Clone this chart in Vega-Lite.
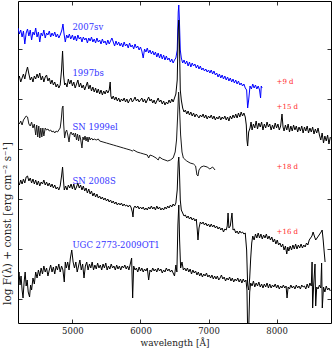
{
"$schema":"https://vega.github.io/schema/vega-lite/v6.json",
"width":313,"height":322,"autosize":"none",
"padding":{"left":18,"top":1,"right":1,"bottom":27},
"config":{"view":{"stroke":"#000","strokeWidth":1},"axis":{"grid":false,"domain":false,"tickColor":"#000","tickWidth":0.8,"labelFont":"DejaVu Serif","labelFontSize":8.5,"labelColor":"#222","titleFont":"DejaVu Serif","titleFontSize":9,"titleFontWeight":"normal","titleColor":"#222"}},
"datasets":{
"spec":[
{"s":"2007sv","w":4200,"f":27.1},{"s":"2007sv","w":4220,"f":26.5},{"s":"2007sv","w":4240,"f":26.9},{"s":"2007sv","w":4260,"f":26.2},{"s":"2007sv","w":4280,"f":26.8},{"s":"2007sv","w":4300,"f":25.5},{"s":"2007sv","w":4320,"f":26.6},{"s":"2007sv","w":4340,"f":27.0},{"s":"2007sv","w":4360,"f":26.3},{"s":"2007sv","w":4380,"f":26.9},{"s":"2007sv","w":4400,"f":25.9},{"s":"2007sv","w":4420,"f":26.7},{"s":"2007sv","w":4440,"f":26.4},{"s":"2007sv","w":4460,"f":27.1},{"s":"2007sv","w":4480,"f":26.2},{"s":"2007sv","w":4500,"f":26.7},{"s":"2007sv","w":4520,"f":25.7},{"s":"2007sv","w":4540,"f":26.6},{"s":"2007sv","w":4560,"f":26.3},{"s":"2007sv","w":4580,"f":26.9},{"s":"2007sv","w":4600,"f":26.1},{"s":"2007sv","w":4620,"f":26.6},{"s":"2007sv","w":4640,"f":26.4},{"s":"2007sv","w":4660,"f":26.8},{"s":"2007sv","w":4680,"f":26.2},{"s":"2007sv","w":4700,"f":26.6},{"s":"2007sv","w":4720,"f":26.3},{"s":"2007sv","w":4740,"f":26.7},{"s":"2007sv","w":4760,"f":26.2},{"s":"2007sv","w":4780,"f":26.5},{"s":"2007sv","w":4800,"f":26.1},{"s":"2007sv","w":4820,"f":26.4},{"s":"2007sv","w":4845,"f":26.9},{"s":"2007sv","w":4861,"f":27.5},{"s":"2007sv","w":4875,"f":26.6},{"s":"2007sv","w":4895,"f":25.7},{"s":"2007sv","w":4915,"f":26.4},{"s":"2007sv","w":4935,"f":26.1},{"s":"2007sv","w":4955,"f":26.5},{"s":"2007sv","w":4975,"f":26.0},{"s":"2007sv","w":5000,"f":26.4},{"s":"2007sv","w":5020,"f":25.9},{"s":"2007sv","w":5040,"f":26.3},{"s":"2007sv","w":5060,"f":25.8},{"s":"2007sv","w":5080,"f":26.4},{"s":"2007sv","w":5100,"f":26.0},{"s":"2007sv","w":5120,"f":26.2},{"s":"2007sv","w":5140,"f":25.7},{"s":"2007sv","w":5160,"f":26.2},{"s":"2007sv","w":5180,"f":25.9},{"s":"2007sv","w":5200,"f":26.1},{"s":"2007sv","w":5220,"f":25.6},{"s":"2007sv","w":5240,"f":26.1},{"s":"2007sv","w":5260,"f":25.8},{"s":"2007sv","w":5280,"f":26.2},{"s":"2007sv","w":5300,"f":25.7},{"s":"2007sv","w":5320,"f":26.0},{"s":"2007sv","w":5340,"f":25.6},{"s":"2007sv","w":5360,"f":26.1},{"s":"2007sv","w":5380,"f":25.7},{"s":"2007sv","w":5400,"f":25.9},{"s":"2007sv","w":5420,"f":25.5},{"s":"2007sv","w":5440,"f":26.0},{"s":"2007sv","w":5460,"f":25.6},{"s":"2007sv","w":5480,"f":25.8},{"s":"2007sv","w":5500,"f":25.4},{"s":"2007sv","w":5520,"f":25.9},{"s":"2007sv","w":5540,"f":25.5},{"s":"2007sv","w":5560,"f":25.8},{"s":"2007sv","w":5580,"f":26.1},{"s":"2007sv","w":5600,"f":25.7},{"s":"2007sv","w":5620,"f":25.3},{"s":"2007sv","w":5640,"f":25.8},{"s":"2007sv","w":5660,"f":25.4},{"s":"2007sv","w":5680,"f":25.7},{"s":"2007sv","w":5700,"f":25.3},{"s":"2007sv","w":5720,"f":25.6},{"s":"2007sv","w":5740,"f":25.2},{"s":"2007sv","w":5760,"f":25.7},{"s":"2007sv","w":5780,"f":25.3},{"s":"2007sv","w":5800,"f":25.5},{"s":"2007sv","w":5820,"f":25.1},{"s":"2007sv","w":5840,"f":25.6},{"s":"2007sv","w":5860,"f":25.2},{"s":"2007sv","w":5880,"f":25.4},{"s":"2007sv","w":5900,"f":25.0},{"s":"2007sv","w":5920,"f":25.5},{"s":"2007sv","w":5940,"f":25.1},{"s":"2007sv","w":5960,"f":25.3},{"s":"2007sv","w":5980,"f":24.9},{"s":"2007sv","w":6000,"f":25.2},{"s":"2007sv","w":6020,"f":24.8},{"s":"2007sv","w":6040,"f":24.1},{"s":"2007sv","w":6060,"f":25.0},{"s":"2007sv","w":6080,"f":24.7},{"s":"2007sv","w":6100,"f":25.1},{"s":"2007sv","w":6120,"f":24.6},{"s":"2007sv","w":6140,"f":24.9},{"s":"2007sv","w":6160,"f":24.5},{"s":"2007sv","w":6180,"f":24.8},{"s":"2007sv","w":6200,"f":24.4},{"s":"2007sv","w":6220,"f":24.7},{"s":"2007sv","w":6240,"f":24.2},{"s":"2007sv","w":6260,"f":24.6},{"s":"2007sv","w":6280,"f":24.1},{"s":"2007sv","w":6300,"f":24.5},{"s":"2007sv","w":6320,"f":24.0},{"s":"2007sv","w":6340,"f":24.4},{"s":"2007sv","w":6360,"f":23.9},{"s":"2007sv","w":6380,"f":24.3},{"s":"2007sv","w":6400,"f":23.9},{"s":"2007sv","w":6420,"f":24.1},{"s":"2007sv","w":6440,"f":23.7},{"s":"2007sv","w":6460,"f":24.0},{"s":"2007sv","w":6480,"f":23.6},{"s":"2007sv","w":6500,"f":23.9},{"s":"2007sv","w":6520,"f":24.1},{"s":"2007sv","w":6540,"f":24.9},{"s":"2007sv","w":6555,"f":28.7},{"s":"2007sv","w":6563,"f":29.4},{"s":"2007sv","w":6572,"f":27.9},{"s":"2007sv","w":6585,"f":24.9},{"s":"2007sv","w":6600,"f":24.1},{"s":"2007sv","w":6620,"f":23.6},{"s":"2007sv","w":6640,"f":23.9},{"s":"2007sv","w":6660,"f":23.5},{"s":"2007sv","w":6680,"f":23.8},{"s":"2007sv","w":6700,"f":23.3},{"s":"2007sv","w":6720,"f":23.7},{"s":"2007sv","w":6740,"f":23.2},{"s":"2007sv","w":6760,"f":23.6},{"s":"2007sv","w":6780,"f":23.3},{"s":"2007sv","w":6800,"f":23.5},{"s":"2007sv","w":6820,"f":23.1},{"s":"2007sv","w":6840,"f":23.4},{"s":"2007sv","w":6860,"f":23.0},{"s":"2007sv","w":6880,"f":23.3},{"s":"2007sv","w":6900,"f":22.9},{"s":"2007sv","w":6920,"f":23.1},{"s":"2007sv","w":6940,"f":22.8},{"s":"2007sv","w":6960,"f":23.0},{"s":"2007sv","w":6980,"f":22.7},{"s":"2007sv","w":7000,"f":22.9},{"s":"2007sv","w":7020,"f":22.6},{"s":"2007sv","w":7040,"f":22.9},{"s":"2007sv","w":7060,"f":22.5},{"s":"2007sv","w":7080,"f":22.8},{"s":"2007sv","w":7100,"f":22.4},{"s":"2007sv","w":7120,"f":22.6},{"s":"2007sv","w":7140,"f":22.2},{"s":"2007sv","w":7160,"f":22.5},{"s":"2007sv","w":7180,"f":22.1},{"s":"2007sv","w":7200,"f":22.4},{"s":"2007sv","w":7220,"f":22.0},{"s":"2007sv","w":7240,"f":22.3},{"s":"2007sv","w":7260,"f":21.9},{"s":"2007sv","w":7280,"f":22.2},{"s":"2007sv","w":7300,"f":21.8},{"s":"2007sv","w":7320,"f":22.1},{"s":"2007sv","w":7340,"f":21.7},{"s":"2007sv","w":7360,"f":22.0},{"s":"2007sv","w":7380,"f":21.6},{"s":"2007sv","w":7400,"f":21.9},{"s":"2007sv","w":7420,"f":21.5},{"s":"2007sv","w":7440,"f":21.8},{"s":"2007sv","w":7460,"f":21.4},{"s":"2007sv","w":7480,"f":21.6},{"s":"2007sv","w":7500,"f":21.3},{"s":"2007sv","w":7520,"f":21.5},{"s":"2007sv","w":7540,"f":21.1},{"s":"2007sv","w":7560,"f":20.9},{"s":"2007sv","w":7575,"f":19.1},{"s":"2007sv","w":7590,"f":19.9},{"s":"2007sv","w":7610,"f":21.3},{"s":"2007sv","w":7630,"f":21.0},{"s":"2007sv","w":7650,"f":21.5},{"s":"2007sv","w":7670,"f":21.1},{"s":"2007sv","w":7690,"f":21.4},{"s":"2007sv","w":7710,"f":21.0},{"s":"2007sv","w":7730,"f":21.3},{"s":"2007sv","w":7750,"f":20.9},{"s":"2007sv","w":7765,"f":20.1},{"s":"2007sv","w":7775,"f":21.3},{"s":"2007sv","w":7787,"f":21.1},
{"s":"1997bs","w":4200,"f":21.9},{"s":"1997bs","w":4220,"f":22.3},{"s":"1997bs","w":4240,"f":21.7},{"s":"1997bs","w":4260,"f":22.1},{"s":"1997bs","w":4280,"f":22.5},{"s":"1997bs","w":4300,"f":22.0},{"s":"1997bs","w":4320,"f":22.7},{"s":"1997bs","w":4340,"f":23.2},{"s":"1997bs","w":4360,"f":22.5},{"s":"1997bs","w":4380,"f":21.9},{"s":"1997bs","w":4400,"f":22.2},{"s":"1997bs","w":4420,"f":21.7},{"s":"1997bs","w":4440,"f":22.3},{"s":"1997bs","w":4460,"f":22.0},{"s":"1997bs","w":4480,"f":22.5},{"s":"1997bs","w":4500,"f":22.1},{"s":"1997bs","w":4520,"f":22.6},{"s":"1997bs","w":4540,"f":21.9},{"s":"1997bs","w":4560,"f":22.3},{"s":"1997bs","w":4580,"f":21.7},{"s":"1997bs","w":4600,"f":22.2},{"s":"1997bs","w":4620,"f":22.4},{"s":"1997bs","w":4640,"f":21.8},{"s":"1997bs","w":4660,"f":22.1},{"s":"1997bs","w":4680,"f":21.5},{"s":"1997bs","w":4700,"f":21.9},{"s":"1997bs","w":4720,"f":21.4},{"s":"1997bs","w":4740,"f":21.7},{"s":"1997bs","w":4760,"f":21.2},{"s":"1997bs","w":4780,"f":21.5},{"s":"1997bs","w":4800,"f":21.1},{"s":"1997bs","w":4820,"f":21.4},{"s":"1997bs","w":4840,"f":22.9},{"s":"1997bs","w":4855,"f":24.8},{"s":"1997bs","w":4870,"f":22.4},{"s":"1997bs","w":4885,"f":21.4},{"s":"1997bs","w":4900,"f":21.6},{"s":"1997bs","w":4920,"f":21.2},{"s":"1997bs","w":4940,"f":22.0},{"s":"1997bs","w":4960,"f":21.5},{"s":"1997bs","w":4980,"f":21.9},{"s":"1997bs","w":5000,"f":21.3},{"s":"1997bs","w":5020,"f":21.7},{"s":"1997bs","w":5040,"f":21.1},{"s":"1997bs","w":5060,"f":21.5},{"s":"1997bs","w":5080,"f":21.9},{"s":"1997bs","w":5100,"f":21.2},{"s":"1997bs","w":5120,"f":21.6},{"s":"1997bs","w":5140,"f":21.1},{"s":"1997bs","w":5160,"f":21.4},{"s":"1997bs","w":5180,"f":20.9},{"s":"1997bs","w":5200,"f":21.3},{"s":"1997bs","w":5220,"f":21.7},{"s":"1997bs","w":5240,"f":21.0},{"s":"1997bs","w":5260,"f":21.4},{"s":"1997bs","w":5280,"f":20.8},{"s":"1997bs","w":5300,"f":21.2},{"s":"1997bs","w":5320,"f":20.7},{"s":"1997bs","w":5340,"f":21.1},{"s":"1997bs","w":5360,"f":20.6},{"s":"1997bs","w":5380,"f":21.0},{"s":"1997bs","w":5400,"f":20.5},{"s":"1997bs","w":5420,"f":20.9},{"s":"1997bs","w":5440,"f":20.4},{"s":"1997bs","w":5460,"f":20.8},{"s":"1997bs","w":5480,"f":20.5},{"s":"1997bs","w":5500,"f":20.9},{"s":"1997bs","w":5520,"f":20.6},{"s":"1997bs","w":5540,"f":20.9},{"s":"1997bs","w":5555,"f":21.7},{"s":"1997bs","w":5565,"f":20.3},{"s":"1997bs","w":5580,"f":20.0},{"s":"1997bs","w":5600,"f":20.3},{"s":"1997bs","w":5620,"f":19.9},{"s":"1997bs","w":5640,"f":20.2},{"s":"1997bs","w":5660,"f":19.8},{"s":"1997bs","w":5680,"f":20.1},{"s":"1997bs","w":5700,"f":19.7},{"s":"1997bs","w":5720,"f":20.0},{"s":"1997bs","w":5740,"f":19.8},{"s":"1997bs","w":5760,"f":20.1},{"s":"1997bs","w":5780,"f":19.7},{"s":"1997bs","w":5800,"f":20.0},{"s":"1997bs","w":5820,"f":19.6},{"s":"1997bs","w":5840,"f":19.9},{"s":"1997bs","w":5860,"f":20.1},{"s":"1997bs","w":5880,"f":19.7},{"s":"1997bs","w":5900,"f":19.9},{"s":"1997bs","w":5920,"f":20.2},{"s":"1997bs","w":5940,"f":19.8},{"s":"1997bs","w":5960,"f":20.0},{"s":"1997bs","w":5980,"f":19.7},{"s":"1997bs","w":6000,"f":19.9},{"s":"1997bs","w":6020,"f":20.1},{"s":"1997bs","w":6040,"f":19.7},{"s":"1997bs","w":6060,"f":20.0},{"s":"1997bs","w":6080,"f":19.6},{"s":"1997bs","w":6100,"f":19.9},{"s":"1997bs","w":6120,"f":20.2},{"s":"1997bs","w":6140,"f":19.8},{"s":"1997bs","w":6160,"f":20.0},{"s":"1997bs","w":6180,"f":19.6},{"s":"1997bs","w":6200,"f":19.9},{"s":"1997bs","w":6220,"f":19.5},{"s":"1997bs","w":6240,"f":19.8},{"s":"1997bs","w":6260,"f":20.1},{"s":"1997bs","w":6280,"f":19.7},{"s":"1997bs","w":6300,"f":19.9},{"s":"1997bs","w":6320,"f":19.5},{"s":"1997bs","w":6340,"f":19.8},{"s":"1997bs","w":6360,"f":19.4},{"s":"1997bs","w":6380,"f":19.7},{"s":"1997bs","w":6400,"f":19.5},{"s":"1997bs","w":6420,"f":19.9},{"s":"1997bs","w":6440,"f":19.6},{"s":"1997bs","w":6460,"f":20.0},{"s":"1997bs","w":6480,"f":19.7},{"s":"1997bs","w":6500,"f":20.1},{"s":"1997bs","w":6520,"f":20.5},{"s":"1997bs","w":6540,"f":21.9},{"s":"1997bs","w":6555,"f":26.9},{"s":"1997bs","w":6563,"f":27.9},{"s":"1997bs","w":6572,"f":25.9},{"s":"1997bs","w":6585,"f":20.9},{"s":"1997bs","w":6600,"f":19.9},{"s":"1997bs","w":6620,"f":19.1},{"s":"1997bs","w":6640,"f":18.7},{"s":"1997bs","w":6660,"f":18.9},{"s":"1997bs","w":6680,"f":18.5},{"s":"1997bs","w":6700,"f":18.8},{"s":"1997bs","w":6720,"f":18.4},{"s":"1997bs","w":6740,"f":18.7},{"s":"1997bs","w":6760,"f":18.3},{"s":"1997bs","w":6780,"f":18.6},{"s":"1997bs","w":6800,"f":18.2},{"s":"1997bs","w":6820,"f":18.5},{"s":"1997bs","w":6840,"f":18.3},{"s":"1997bs","w":6860,"f":18.1},{"s":"1997bs","w":6880,"f":18.4},{"s":"1997bs","w":6900,"f":18.2},{"s":"1997bs","w":6920,"f":18.5},{"s":"1997bs","w":6940,"f":18.1},{"s":"1997bs","w":6960,"f":18.4},{"s":"1997bs","w":6980,"f":18.0},{"s":"1997bs","w":7000,"f":18.3},{"s":"1997bs","w":7020,"f":18.1},{"s":"1997bs","w":7040,"f":18.4},{"s":"1997bs","w":7060,"f":18.0},{"s":"1997bs","w":7080,"f":18.3},{"s":"1997bs","w":7100,"f":17.9},{"s":"1997bs","w":7120,"f":18.2},{"s":"1997bs","w":7140,"f":18.0},{"s":"1997bs","w":7160,"f":18.3},{"s":"1997bs","w":7180,"f":17.9},{"s":"1997bs","w":7200,"f":18.2},{"s":"1997bs","w":7220,"f":18.0},{"s":"1997bs","w":7240,"f":18.3},{"s":"1997bs","w":7260,"f":17.9},{"s":"1997bs","w":7280,"f":18.2},{"s":"1997bs","w":7300,"f":17.8},{"s":"1997bs","w":7320,"f":18.3},{"s":"1997bs","w":7340,"f":18.0},{"s":"1997bs","w":7360,"f":18.4},{"s":"1997bs","w":7380,"f":18.1},{"s":"1997bs","w":7400,"f":18.5},{"s":"1997bs","w":7420,"f":18.1},{"s":"1997bs","w":7440,"f":18.6},{"s":"1997bs","w":7460,"f":18.2},{"s":"1997bs","w":7480,"f":18.7},{"s":"1997bs","w":7500,"f":18.3},{"s":"1997bs","w":7520,"f":18.6},{"s":"1997bs","w":7540,"f":18.2},{"s":"1997bs","w":7555,"f":17.4},{"s":"1997bs","w":7565,"f":15.9},{"s":"1997bs","w":7575,"f":15.3},{"s":"1997bs","w":7590,"f":16.7},{"s":"1997bs","w":7610,"f":17.1},{"s":"1997bs","w":7625,"f":17.7},{"s":"1997bs","w":7640,"f":16.9},{"s":"1997bs","w":7660,"f":17.5},{"s":"1997bs","w":7680,"f":17.1},{"s":"1997bs","w":7700,"f":17.8},{"s":"1997bs","w":7720,"f":17.0},{"s":"1997bs","w":7740,"f":17.6},{"s":"1997bs","w":7760,"f":17.2},{"s":"1997bs","w":7780,"f":17.7},{"s":"1997bs","w":7800,"f":16.9},{"s":"1997bs","w":7820,"f":17.5},{"s":"1997bs","w":7840,"f":17.1},{"s":"1997bs","w":7860,"f":17.7},{"s":"1997bs","w":7880,"f":17.2},{"s":"1997bs","w":7900,"f":17.5},{"s":"1997bs","w":7920,"f":16.9},{"s":"1997bs","w":7940,"f":17.4},{"s":"1997bs","w":7960,"f":17.0},{"s":"1997bs","w":7980,"f":17.6},{"s":"1997bs","w":8000,"f":17.1},{"s":"1997bs","w":8020,"f":17.5},{"s":"1997bs","w":8040,"f":16.9},{"s":"1997bs","w":8060,"f":17.3},{"s":"1997bs","w":8080,"f":18.5},{"s":"1997bs","w":8095,"f":17.2},{"s":"1997bs","w":8110,"f":16.8},{"s":"1997bs","w":8130,"f":17.4},{"s":"1997bs","w":8150,"f":16.9},{"s":"1997bs","w":8170,"f":17.5},{"s":"1997bs","w":8190,"f":16.7},{"s":"1997bs","w":8210,"f":17.3},{"s":"1997bs","w":8230,"f":16.8},{"s":"1997bs","w":8250,"f":17.4},{"s":"1997bs","w":8270,"f":16.9},{"s":"1997bs","w":8290,"f":17.3},{"s":"1997bs","w":8310,"f":16.7},{"s":"1997bs","w":8330,"f":17.2},{"s":"1997bs","w":8350,"f":16.8},{"s":"1997bs","w":8370,"f":17.3},{"s":"1997bs","w":8390,"f":16.6},{"s":"1997bs","w":8410,"f":17.2},{"s":"1997bs","w":8430,"f":16.8},{"s":"1997bs","w":8450,"f":17.3},{"s":"1997bs","w":8470,"f":16.6},{"s":"1997bs","w":8490,"f":17.1},{"s":"1997bs","w":8510,"f":16.7},{"s":"1997bs","w":8530,"f":17.2},{"s":"1997bs","w":8550,"f":16.5},{"s":"1997bs","w":8570,"f":17.0},{"s":"1997bs","w":8590,"f":16.6},{"s":"1997bs","w":8610,"f":17.1},{"s":"1997bs","w":8630,"f":16.4},{"s":"1997bs","w":8650,"f":15.9},{"s":"1997bs","w":8670,"f":16.6},{"s":"1997bs","w":8690,"f":15.6},{"s":"1997bs","w":8710,"f":16.3},{"s":"1997bs","w":8730,"f":15.8},{"s":"1997bs","w":8750,"f":16.4},{"s":"1997bs","w":8770,"f":15.5},{"s":"1997bs","w":8790,"f":16.2},
{"s":"SN 1999el","w":4200,"f":17.7},{"s":"SN 1999el","w":4220,"f":17.5},{"s":"SN 1999el","w":4240,"f":17.8},{"s":"SN 1999el","w":4260,"f":17.4},{"s":"SN 1999el","w":4280,"f":17.9},{"s":"SN 1999el","w":4300,"f":18.1},{"s":"SN 1999el","w":4320,"f":18.3},{"s":"SN 1999el","w":4340,"f":18.2},{"s":"SN 1999el","w":4360,"f":17.5},{"s":"SN 1999el","w":4380,"f":17.3},{"s":"SN 1999el","w":4400,"f":17.7},{"s":"SN 1999el","w":4420,"f":17.1},{"s":"SN 1999el","w":4440,"f":17.5},{"s":"SN 1999el","w":4460,"f":16.4},{"s":"SN 1999el","w":4475,"f":17.4},{"s":"SN 1999el","w":4490,"f":16.2},{"s":"SN 1999el","w":4505,"f":17.3},{"s":"SN 1999el","w":4520,"f":16.1},{"s":"SN 1999el","w":4535,"f":17.1},{"s":"SN 1999el","w":4550,"f":16.2},{"s":"SN 1999el","w":4565,"f":17.1},{"s":"SN 1999el","w":4580,"f":16.3},{"s":"SN 1999el","w":4600,"f":17.1},{"s":"SN 1999el","w":4620,"f":16.9},{"s":"SN 1999el","w":4640,"f":17.0},{"s":"SN 1999el","w":4660,"f":16.8},{"s":"SN 1999el","w":4680,"f":16.9},{"s":"SN 1999el","w":4700,"f":16.7},{"s":"SN 1999el","w":4720,"f":16.8},{"s":"SN 1999el","w":4740,"f":16.6},{"s":"SN 1999el","w":4760,"f":16.8},{"s":"SN 1999el","w":4780,"f":16.7},{"s":"SN 1999el","w":4800,"f":16.9},{"s":"SN 1999el","w":4820,"f":17.1},{"s":"SN 1999el","w":4835,"f":17.9},{"s":"SN 1999el","w":4850,"f":19.1},{"s":"SN 1999el","w":4861,"f":19.3},{"s":"SN 1999el","w":4872,"f":17.4},{"s":"SN 1999el","w":4885,"f":16.1},{"s":"SN 1999el","w":4900,"f":16.7},{"s":"SN 1999el","w":4915,"f":16.9},{"s":"SN 1999el","w":4935,"f":16.3},{"s":"SN 1999el","w":4950,"f":15.7},{"s":"SN 1999el","w":4965,"f":16.5},{"s":"SN 1999el","w":4980,"f":16.7},{"s":"SN 1999el","w":5000,"f":16.4},{"s":"SN 1999el","w":5015,"f":16.6},{"s":"SN 1999el","w":5030,"f":16.2},{"s":"SN 1999el","w":5045,"f":16.6},{"s":"SN 1999el","w":5060,"f":15.9},{"s":"SN 1999el","w":5075,"f":16.5},{"s":"SN 1999el","w":5090,"f":15.8},{"s":"SN 1999el","w":5105,"f":16.4},{"s":"SN 1999el","w":5120,"f":16.0},{"s":"SN 1999el","w":5140,"f":15.1},{"s":"SN 1999el","w":5155,"f":16.2},{"s":"SN 1999el","w":5170,"f":15.9},{"s":"SN 1999el","w":5185,"f":16.3},{"s":"SN 1999el","w":5200,"f":15.8},{"s":"SN 1999el","w":5215,"f":16.2},{"s":"SN 1999el","w":5230,"f":15.7},{"s":"SN 1999el","w":5245,"f":16.2},{"s":"SN 1999el","w":5260,"f":15.9},{"s":"SN 1999el","w":5280,"f":16.1},{"s":"SN 1999el","w":5300,"f":15.9},{"s":"SN 1999el","w":5320,"f":16.0},{"s":"SN 1999el","w":5350,"f":15.9},{"s":"SN 1999el","w":5380,"f":16.0},{"s":"SN 1999el","w":5400,"f":15.8},{"s":"SN 1999el","w":5450,"f":15.7},{"s":"SN 1999el","w":5500,"f":15.6},{"s":"SN 1999el","w":5550,"f":15.5},{"s":"SN 1999el","w":5600,"f":15.4},{"s":"SN 1999el","w":5650,"f":15.3},{"s":"SN 1999el","w":5700,"f":15.2},{"s":"SN 1999el","w":5750,"f":15.1},{"s":"SN 1999el","w":5800,"f":15.0},{"s":"SN 1999el","w":5850,"f":14.9},{"s":"SN 1999el","w":5880,"f":14.8},{"s":"SN 1999el","w":5900,"f":14.9},{"s":"SN 1999el","w":5950,"f":14.7},{"s":"SN 1999el","w":6000,"f":14.6},{"s":"SN 1999el","w":6050,"f":14.5},{"s":"SN 1999el","w":6100,"f":14.4},{"s":"SN 1999el","w":6120,"f":14.1},{"s":"SN 1999el","w":6140,"f":14.4},{"s":"SN 1999el","w":6180,"f":14.3},{"s":"SN 1999el","w":6230,"f":14.1},{"s":"SN 1999el","w":6260,"f":13.9},{"s":"SN 1999el","w":6280,"f":14.2},{"s":"SN 1999el","w":6320,"f":14.0},{"s":"SN 1999el","w":6360,"f":13.9},{"s":"SN 1999el","w":6400,"f":13.8},{"s":"SN 1999el","w":6440,"f":13.9},{"s":"SN 1999el","w":6480,"f":14.1},{"s":"SN 1999el","w":6510,"f":14.7},{"s":"SN 1999el","w":6530,"f":15.9},{"s":"SN 1999el","w":6545,"f":18.1},{"s":"SN 1999el","w":6560,"f":20.7},{"s":"SN 1999el","w":6575,"f":18.9},{"s":"SN 1999el","w":6590,"f":16.4},{"s":"SN 1999el","w":6610,"f":14.7},{"s":"SN 1999el","w":6630,"f":14.1},{"s":"SN 1999el","w":6680,"f":13.8},{"s":"SN 1999el","w":6730,"f":13.6},{"s":"SN 1999el","w":6780,"f":13.5},{"s":"SN 1999el","w":6810,"f":13.3},{"s":"SN 1999el","w":6830,"f":12.4},{"s":"SN 1999el","w":6845,"f":12.3},{"s":"SN 1999el","w":6860,"f":12.9},{"s":"SN 1999el","w":6890,"f":13.2},{"s":"SN 1999el","w":6930,"f":13.3},{"s":"SN 1999el","w":6980,"f":13.2},{"s":"SN 1999el","w":7020,"f":13.0},{"s":"SN 1999el","w":7060,"f":13.2},{"s":"SN 1999el","w":7096,"f":12.9},
{"s":"SN 2008S","w":4200,"f":11.7},{"s":"SN 2008S","w":4220,"f":11.4},{"s":"SN 2008S","w":4240,"f":11.9},{"s":"SN 2008S","w":4260,"f":11.5},{"s":"SN 2008S","w":4280,"f":12.0},{"s":"SN 2008S","w":4300,"f":11.6},{"s":"SN 2008S","w":4320,"f":12.2},{"s":"SN 2008S","w":4340,"f":12.3},{"s":"SN 2008S","w":4360,"f":11.8},{"s":"SN 2008S","w":4380,"f":12.1},{"s":"SN 2008S","w":4400,"f":11.6},{"s":"SN 2008S","w":4420,"f":12.0},{"s":"SN 2008S","w":4440,"f":11.5},{"s":"SN 2008S","w":4460,"f":11.9},{"s":"SN 2008S","w":4480,"f":11.4},{"s":"SN 2008S","w":4500,"f":11.8},{"s":"SN 2008S","w":4520,"f":11.3},{"s":"SN 2008S","w":4540,"f":11.7},{"s":"SN 2008S","w":4560,"f":11.5},{"s":"SN 2008S","w":4580,"f":11.9},{"s":"SN 2008S","w":4600,"f":11.4},{"s":"SN 2008S","w":4620,"f":11.7},{"s":"SN 2008S","w":4640,"f":11.3},{"s":"SN 2008S","w":4660,"f":11.6},{"s":"SN 2008S","w":4680,"f":11.2},{"s":"SN 2008S","w":4700,"f":11.5},{"s":"SN 2008S","w":4720,"f":11.1},{"s":"SN 2008S","w":4740,"f":11.4},{"s":"SN 2008S","w":4760,"f":11.0},{"s":"SN 2008S","w":4780,"f":11.2},{"s":"SN 2008S","w":4800,"f":10.9},{"s":"SN 2008S","w":4820,"f":11.3},{"s":"SN 2008S","w":4840,"f":12.3},{"s":"SN 2008S","w":4855,"f":13.2},{"s":"SN 2008S","w":4868,"f":11.9},{"s":"SN 2008S","w":4880,"f":10.9},{"s":"SN 2008S","w":4900,"f":11.3},{"s":"SN 2008S","w":4920,"f":10.9},{"s":"SN 2008S","w":4940,"f":11.4},{"s":"SN 2008S","w":4960,"f":11.1},{"s":"SN 2008S","w":4980,"f":11.5},{"s":"SN 2008S","w":5000,"f":11.0},{"s":"SN 2008S","w":5020,"f":11.5},{"s":"SN 2008S","w":5040,"f":10.9},{"s":"SN 2008S","w":5060,"f":11.2},{"s":"SN 2008S","w":5080,"f":11.6},{"s":"SN 2008S","w":5100,"f":11.1},{"s":"SN 2008S","w":5120,"f":11.4},{"s":"SN 2008S","w":5140,"f":10.9},{"s":"SN 2008S","w":5160,"f":11.3},{"s":"SN 2008S","w":5180,"f":10.8},{"s":"SN 2008S","w":5200,"f":11.1},{"s":"SN 2008S","w":5220,"f":10.6},{"s":"SN 2008S","w":5240,"f":11.0},{"s":"SN 2008S","w":5260,"f":10.5},{"s":"SN 2008S","w":5280,"f":10.8},{"s":"SN 2008S","w":5300,"f":10.3},{"s":"SN 2008S","w":5320,"f":10.6},{"s":"SN 2008S","w":5340,"f":10.2},{"s":"SN 2008S","w":5360,"f":10.5},{"s":"SN 2008S","w":5380,"f":10.1},{"s":"SN 2008S","w":5400,"f":10.3},{"s":"SN 2008S","w":5420,"f":10.0},{"s":"SN 2008S","w":5440,"f":10.2},{"s":"SN 2008S","w":5460,"f":9.9},{"s":"SN 2008S","w":5480,"f":10.1},{"s":"SN 2008S","w":5500,"f":9.8},{"s":"SN 2008S","w":5520,"f":10.0},{"s":"SN 2008S","w":5540,"f":9.7},{"s":"SN 2008S","w":5560,"f":9.9},{"s":"SN 2008S","w":5580,"f":9.6},{"s":"SN 2008S","w":5600,"f":9.8},{"s":"SN 2008S","w":5620,"f":9.5},{"s":"SN 2008S","w":5640,"f":9.7},{"s":"SN 2008S","w":5660,"f":9.4},{"s":"SN 2008S","w":5680,"f":9.6},{"s":"SN 2008S","w":5700,"f":9.4},{"s":"SN 2008S","w":5720,"f":9.6},{"s":"SN 2008S","w":5740,"f":9.3},{"s":"SN 2008S","w":5760,"f":9.5},{"s":"SN 2008S","w":5780,"f":9.3},{"s":"SN 2008S","w":5800,"f":9.4},{"s":"SN 2008S","w":5820,"f":9.2},{"s":"SN 2008S","w":5840,"f":9.4},{"s":"SN 2008S","w":5860,"f":9.2},{"s":"SN 2008S","w":5880,"f":8.7},{"s":"SN 2008S","w":5890,"f":8.2},{"s":"SN 2008S","w":5900,"f":9.1},{"s":"SN 2008S","w":5920,"f":9.3},{"s":"SN 2008S","w":5940,"f":9.1},{"s":"SN 2008S","w":5960,"f":9.3},{"s":"SN 2008S","w":5980,"f":9.0},{"s":"SN 2008S","w":6000,"f":9.2},{"s":"SN 2008S","w":6020,"f":9.0},{"s":"SN 2008S","w":6040,"f":9.2},{"s":"SN 2008S","w":6060,"f":8.9},{"s":"SN 2008S","w":6080,"f":9.1},{"s":"SN 2008S","w":6100,"f":8.9},{"s":"SN 2008S","w":6120,"f":9.2},{"s":"SN 2008S","w":6140,"f":9.0},{"s":"SN 2008S","w":6160,"f":9.3},{"s":"SN 2008S","w":6180,"f":9.0},{"s":"SN 2008S","w":6200,"f":9.2},{"s":"SN 2008S","w":6220,"f":8.9},{"s":"SN 2008S","w":6240,"f":9.3},{"s":"SN 2008S","w":6260,"f":9.0},{"s":"SN 2008S","w":6280,"f":9.2},{"s":"SN 2008S","w":6300,"f":8.9},{"s":"SN 2008S","w":6320,"f":9.1},{"s":"SN 2008S","w":6340,"f":8.9},{"s":"SN 2008S","w":6360,"f":9.2},{"s":"SN 2008S","w":6380,"f":9.0},{"s":"SN 2008S","w":6400,"f":9.3},{"s":"SN 2008S","w":6420,"f":9.1},{"s":"SN 2008S","w":6440,"f":9.4},{"s":"SN 2008S","w":6460,"f":9.2},{"s":"SN 2008S","w":6480,"f":9.5},{"s":"SN 2008S","w":6500,"f":9.3},{"s":"SN 2008S","w":6520,"f":9.6},{"s":"SN 2008S","w":6540,"f":10.9},{"s":"SN 2008S","w":6555,"f":13.7},{"s":"SN 2008S","w":6563,"f":14.2},{"s":"SN 2008S","w":6572,"f":12.9},{"s":"SN 2008S","w":6585,"f":9.9},{"s":"SN 2008S","w":6600,"f":8.9},{"s":"SN 2008S","w":6620,"f":8.6},{"s":"SN 2008S","w":6640,"f":8.3},{"s":"SN 2008S","w":6660,"f":8.4},{"s":"SN 2008S","w":6680,"f":8.1},{"s":"SN 2008S","w":6700,"f":8.3},{"s":"SN 2008S","w":6720,"f":8.0},{"s":"SN 2008S","w":6740,"f":8.2},{"s":"SN 2008S","w":6760,"f":7.9},{"s":"SN 2008S","w":6780,"f":8.1},{"s":"SN 2008S","w":6800,"f":7.8},{"s":"SN 2008S","w":6820,"f":8.0},{"s":"SN 2008S","w":6835,"f":6.9},{"s":"SN 2008S","w":6845,"f":5.9},{"s":"SN 2008S","w":6860,"f":7.1},{"s":"SN 2008S","w":6880,"f":7.7},{"s":"SN 2008S","w":6900,"f":7.5},{"s":"SN 2008S","w":6920,"f":7.7},{"s":"SN 2008S","w":6940,"f":7.4},{"s":"SN 2008S","w":6960,"f":7.6},{"s":"SN 2008S","w":6980,"f":7.3},{"s":"SN 2008S","w":7000,"f":7.5},{"s":"SN 2008S","w":7020,"f":7.2},{"s":"SN 2008S","w":7040,"f":7.5},{"s":"SN 2008S","w":7060,"f":7.2},{"s":"SN 2008S","w":7080,"f":7.4},{"s":"SN 2008S","w":7100,"f":7.1},{"s":"SN 2008S","w":7120,"f":7.3},{"s":"SN 2008S","w":7140,"f":7.0},{"s":"SN 2008S","w":7160,"f":7.2},{"s":"SN 2008S","w":7180,"f":6.9},{"s":"SN 2008S","w":7200,"f":7.1},{"s":"SN 2008S","w":7220,"f":6.7},{"s":"SN 2008S","w":7240,"f":7.0},{"s":"SN 2008S","w":7260,"f":6.9},{"s":"SN 2008S","w":7275,"f":7.3},{"s":"SN 2008S","w":7287,"f":8.6},{"s":"SN 2008S","w":7300,"f":7.1},{"s":"SN 2008S","w":7320,"f":7.3},{"s":"SN 2008S","w":7345,"f":8.6},{"s":"SN 2008S","w":7360,"f":6.9},{"s":"SN 2008S","w":7380,"f":7.0},{"s":"SN 2008S","w":7400,"f":6.6},{"s":"SN 2008S","w":7420,"f":6.8},{"s":"SN 2008S","w":7440,"f":6.5},{"s":"SN 2008S","w":7460,"f":6.8},{"s":"SN 2008S","w":7480,"f":6.6},{"s":"SN 2008S","w":7500,"f":6.7},{"s":"SN 2008S","w":7520,"f":6.5},{"s":"SN 2008S","w":7540,"f":6.6},{"s":"SN 2008S","w":7560,"f":4.9},{"s":"SN 2008S","w":7575,"f":1.4},{"s":"SN 2008S","w":7590,"f":0.9},{"s":"SN 2008S","w":7605,"f":2.1},{"s":"SN 2008S","w":7620,"f":4.1},{"s":"SN 2008S","w":7635,"f":5.6},{"s":"SN 2008S","w":7650,"f":6.3},{"s":"SN 2008S","w":7670,"f":5.9},{"s":"SN 2008S","w":7690,"f":6.5},{"s":"SN 2008S","w":7710,"f":6.1},{"s":"SN 2008S","w":7730,"f":6.6},{"s":"SN 2008S","w":7750,"f":6.1},{"s":"SN 2008S","w":7770,"f":6.5},{"s":"SN 2008S","w":7790,"f":6.0},{"s":"SN 2008S","w":7810,"f":6.4},{"s":"SN 2008S","w":7830,"f":6.1},{"s":"SN 2008S","w":7850,"f":6.5},{"s":"SN 2008S","w":7870,"f":6.0},{"s":"SN 2008S","w":7890,"f":6.3},{"s":"SN 2008S","w":7910,"f":5.9},{"s":"SN 2008S","w":7930,"f":6.2},{"s":"SN 2008S","w":7950,"f":5.7},{"s":"SN 2008S","w":7970,"f":6.0},{"s":"SN 2008S","w":7990,"f":5.5},{"s":"SN 2008S","w":8010,"f":5.9},{"s":"SN 2008S","w":8030,"f":5.4},{"s":"SN 2008S","w":8050,"f":5.6},{"s":"SN 2008S","w":8070,"f":5.2},{"s":"SN 2008S","w":8090,"f":5.5},{"s":"SN 2008S","w":8110,"f":4.9},{"s":"SN 2008S","w":8130,"f":5.3},{"s":"SN 2008S","w":8150,"f":4.5},{"s":"SN 2008S","w":8165,"f":5.2},{"s":"SN 2008S","w":8180,"f":4.8},{"s":"SN 2008S","w":8200,"f":5.3},{"s":"SN 2008S","w":8220,"f":4.9},{"s":"SN 2008S","w":8240,"f":5.4},{"s":"SN 2008S","w":8260,"f":5.0},{"s":"SN 2008S","w":8280,"f":5.5},{"s":"SN 2008S","w":8300,"f":5.0},{"s":"SN 2008S","w":8320,"f":5.4},{"s":"SN 2008S","w":8340,"f":5.1},{"s":"SN 2008S","w":8360,"f":5.5},{"s":"SN 2008S","w":8380,"f":5.1},{"s":"SN 2008S","w":8400,"f":5.4},{"s":"SN 2008S","w":8420,"f":5.2},{"s":"SN 2008S","w":8440,"f":5.6},{"s":"SN 2008S","w":8460,"f":5.4},{"s":"SN 2008S","w":8480,"f":5.9},{"s":"SN 2008S","w":8500,"f":6.1},{"s":"SN 2008S","w":8520,"f":6.3},{"s":"SN 2008S","w":8537,"f":6.7},{"s":"SN 2008S","w":8555,"f":6.3},{"s":"SN 2008S","w":8575,"f":5.9},{"s":"SN 2008S","w":8595,"f":6.1},{"s":"SN 2008S","w":8615,"f":6.3},{"s":"SN 2008S","w":8635,"f":6.5},{"s":"SN 2008S","w":8655,"f":6.7},{"s":"SN 2008S","w":8670,"f":6.9},{"s":"SN 2008S","w":8685,"f":5.9},{"s":"SN 2008S","w":8700,"f":4.7},{"s":"SN 2008S","w":8713,"f":3.7},
{"s":"UGC 2773","w":4200,"f":1.9},{"s":"UGC 2773","w":4215,"f":2.7},{"s":"UGC 2773","w":4230,"f":1.4},{"s":"UGC 2773","w":4245,"f":2.3},{"s":"UGC 2773","w":4260,"f":0.9},{"s":"UGC 2773","w":4274,"f":0.1},{"s":"UGC 2773","w":4290,"f":1.7},{"s":"UGC 2773","w":4305,"f":2.7},{"s":"UGC 2773","w":4320,"f":1.3},{"s":"UGC 2773","w":4335,"f":1.9},{"s":"UGC 2773","w":4350,"f":0.7},{"s":"UGC 2773","w":4370,"f":0.2},{"s":"UGC 2773","w":4385,"f":1.4},{"s":"UGC 2773","w":4400,"f":0.9},{"s":"UGC 2773","w":4420,"f":2.1},{"s":"UGC 2773","w":4440,"f":1.5},{"s":"UGC 2773","w":4460,"f":2.7},{"s":"UGC 2773","w":4480,"f":2.1},{"s":"UGC 2773","w":4500,"f":2.9},{"s":"UGC 2773","w":4520,"f":2.3},{"s":"UGC 2773","w":4540,"f":3.1},{"s":"UGC 2773","w":4560,"f":2.5},{"s":"UGC 2773","w":4580,"f":3.3},{"s":"UGC 2773","w":4600,"f":2.7},{"s":"UGC 2773","w":4620,"f":3.1},{"s":"UGC 2773","w":4640,"f":2.3},{"s":"UGC 2773","w":4660,"f":2.9},{"s":"UGC 2773","w":4680,"f":3.4},{"s":"UGC 2773","w":4700,"f":2.7},{"s":"UGC 2773","w":4720,"f":3.2},{"s":"UGC 2773","w":4740,"f":2.5},{"s":"UGC 2773","w":4760,"f":3.3},{"s":"UGC 2773","w":4780,"f":2.9},{"s":"UGC 2773","w":4800,"f":3.5},{"s":"UGC 2773","w":4820,"f":2.7},{"s":"UGC 2773","w":4840,"f":3.3},{"s":"UGC 2773","w":4860,"f":2.9},{"s":"UGC 2773","w":4880,"f":1.7},{"s":"UGC 2773","w":4895,"f":3.7},{"s":"UGC 2773","w":4910,"f":3.1},{"s":"UGC 2773","w":4930,"f":3.7},{"s":"UGC 2773","w":4950,"f":2.9},{"s":"UGC 2773","w":4970,"f":4.1},{"s":"UGC 2773","w":4990,"f":4.9},{"s":"UGC 2773","w":5010,"f":3.7},{"s":"UGC 2773","w":5030,"f":3.1},{"s":"UGC 2773","w":5050,"f":3.7},{"s":"UGC 2773","w":5070,"f":2.7},{"s":"UGC 2773","w":5090,"f":3.3},{"s":"UGC 2773","w":5110,"f":3.9},{"s":"UGC 2773","w":5130,"f":2.9},{"s":"UGC 2773","w":5150,"f":3.5},{"s":"UGC 2773","w":5170,"f":2.1},{"s":"UGC 2773","w":5190,"f":3.3},{"s":"UGC 2773","w":5210,"f":3.7},{"s":"UGC 2773","w":5230,"f":2.9},{"s":"UGC 2773","w":5250,"f":3.5},{"s":"UGC 2773","w":5270,"f":3.1},{"s":"UGC 2773","w":5290,"f":3.7},{"s":"UGC 2773","w":5310,"f":2.9},{"s":"UGC 2773","w":5330,"f":3.4},{"s":"UGC 2773","w":5350,"f":3.0},{"s":"UGC 2773","w":5370,"f":3.6},{"s":"UGC 2773","w":5390,"f":3.1},{"s":"UGC 2773","w":5410,"f":3.4},{"s":"UGC 2773","w":5430,"f":2.9},{"s":"UGC 2773","w":5450,"f":3.5},{"s":"UGC 2773","w":5470,"f":3.1},{"s":"UGC 2773","w":5490,"f":3.6},{"s":"UGC 2773","w":5510,"f":2.9},{"s":"UGC 2773","w":5530,"f":3.3},{"s":"UGC 2773","w":5550,"f":3.0},{"s":"UGC 2773","w":5570,"f":3.5},{"s":"UGC 2773","w":5590,"f":3.1},{"s":"UGC 2773","w":5610,"f":3.3},{"s":"UGC 2773","w":5630,"f":2.9},{"s":"UGC 2773","w":5650,"f":3.4},{"s":"UGC 2773","w":5670,"f":3.0},{"s":"UGC 2773","w":5690,"f":3.3},{"s":"UGC 2773","w":5710,"f":2.9},{"s":"UGC 2773","w":5730,"f":3.3},{"s":"UGC 2773","w":5750,"f":3.1},{"s":"UGC 2773","w":5770,"f":3.4},{"s":"UGC 2773","w":5790,"f":3.0},{"s":"UGC 2773","w":5810,"f":3.3},{"s":"UGC 2773","w":5830,"f":2.9},{"s":"UGC 2773","w":5850,"f":3.5},{"s":"UGC 2773","w":5870,"f":4.1},{"s":"UGC 2773","w":5885,"f":0.1},{"s":"UGC 2773","w":5900,"f":3.3},{"s":"UGC 2773","w":5920,"f":2.9},{"s":"UGC 2773","w":5940,"f":3.1},{"s":"UGC 2773","w":5960,"f":2.7},{"s":"UGC 2773","w":5980,"f":3.2},{"s":"UGC 2773","w":6000,"f":2.8},{"s":"UGC 2773","w":6020,"f":3.1},{"s":"UGC 2773","w":6040,"f":2.7},{"s":"UGC 2773","w":6060,"f":3.0},{"s":"UGC 2773","w":6080,"f":2.8},{"s":"UGC 2773","w":6100,"f":3.1},{"s":"UGC 2773","w":6120,"f":1.9},{"s":"UGC 2773","w":6140,"f":2.9},{"s":"UGC 2773","w":6160,"f":2.7},{"s":"UGC 2773","w":6180,"f":3.1},{"s":"UGC 2773","w":6200,"f":2.8},{"s":"UGC 2773","w":6220,"f":3.0},{"s":"UGC 2773","w":6240,"f":2.7},{"s":"UGC 2773","w":6260,"f":3.1},{"s":"UGC 2773","w":6280,"f":2.8},{"s":"UGC 2773","w":6300,"f":3.0},{"s":"UGC 2773","w":6320,"f":2.6},{"s":"UGC 2773","w":6340,"f":2.9},{"s":"UGC 2773","w":6360,"f":2.7},{"s":"UGC 2773","w":6380,"f":3.1},{"s":"UGC 2773","w":6400,"f":2.8},{"s":"UGC 2773","w":6420,"f":3.0},{"s":"UGC 2773","w":6440,"f":2.7},{"s":"UGC 2773","w":6460,"f":2.9},{"s":"UGC 2773","w":6480,"f":2.6},{"s":"UGC 2773","w":6500,"f":2.3},{"s":"UGC 2773","w":6520,"f":3.4},{"s":"UGC 2773","w":6535,"f":2.7},{"s":"UGC 2773","w":6550,"f":7.4},{"s":"UGC 2773","w":6563,"f":9.4},{"s":"UGC 2773","w":6575,"f":5.9},{"s":"UGC 2773","w":6590,"f":3.1},{"s":"UGC 2773","w":6610,"f":3.7},{"s":"UGC 2773","w":6630,"f":2.9},{"s":"UGC 2773","w":6650,"f":3.1},{"s":"UGC 2773","w":6670,"f":2.8},{"s":"UGC 2773","w":6690,"f":3.1},{"s":"UGC 2773","w":6710,"f":2.7},{"s":"UGC 2773","w":6730,"f":3.0},{"s":"UGC 2773","w":6750,"f":2.5},{"s":"UGC 2773","w":6770,"f":2.9},{"s":"UGC 2773","w":6790,"f":2.6},{"s":"UGC 2773","w":6810,"f":2.8},{"s":"UGC 2773","w":6830,"f":2.4},{"s":"UGC 2773","w":6850,"f":2.7},{"s":"UGC 2773","w":6870,"f":2.3},{"s":"UGC 2773","w":6890,"f":2.6},{"s":"UGC 2773","w":6910,"f":2.2},{"s":"UGC 2773","w":6930,"f":2.5},{"s":"UGC 2773","w":6950,"f":2.3},{"s":"UGC 2773","w":6970,"f":2.6},{"s":"UGC 2773","w":6990,"f":2.2},{"s":"UGC 2773","w":7010,"f":2.4},{"s":"UGC 2773","w":7030,"f":2.1},{"s":"UGC 2773","w":7050,"f":2.4},{"s":"UGC 2773","w":7070,"f":2.0},{"s":"UGC 2773","w":7090,"f":2.3},{"s":"UGC 2773","w":7110,"f":2.0},{"s":"UGC 2773","w":7130,"f":2.3},{"s":"UGC 2773","w":7150,"f":1.9},{"s":"UGC 2773","w":7170,"f":2.1},{"s":"UGC 2773","w":7190,"f":2.4},{"s":"UGC 2773","w":7210,"f":2.0},{"s":"UGC 2773","w":7230,"f":2.2},{"s":"UGC 2773","w":7250,"f":1.8},{"s":"UGC 2773","w":7270,"f":2.1},{"s":"UGC 2773","w":7290,"f":1.9},{"s":"UGC 2773","w":7310,"f":2.2},{"s":"UGC 2773","w":7330,"f":1.8},{"s":"UGC 2773","w":7350,"f":2.1},{"s":"UGC 2773","w":7370,"f":1.7},{"s":"UGC 2773","w":7390,"f":2.0},{"s":"UGC 2773","w":7410,"f":1.8},{"s":"UGC 2773","w":7430,"f":2.1},{"s":"UGC 2773","w":7450,"f":1.7},{"s":"UGC 2773","w":7470,"f":2.0},{"s":"UGC 2773","w":7490,"f":1.6},{"s":"UGC 2773","w":7510,"f":2.0},{"s":"UGC 2773","w":7530,"f":1.7},{"s":"UGC 2773","w":7550,"f":1.9},{"s":"UGC 2773","w":7565,"f":0.9},{"s":"UGC 2773","w":7575,"f":-3.1},{"s":"UGC 2773","w":7590,"f":-3.1},{"s":"UGC 2773","w":7605,"f":0.7},{"s":"UGC 2773","w":7620,"f":1.6},{"s":"UGC 2773","w":7640,"f":1.3},{"s":"UGC 2773","w":7660,"f":1.8},{"s":"UGC 2773","w":7680,"f":1.2},{"s":"UGC 2773","w":7700,"f":1.6},{"s":"UGC 2773","w":7720,"f":1.3},{"s":"UGC 2773","w":7740,"f":1.7},{"s":"UGC 2773","w":7760,"f":1.2},{"s":"UGC 2773","w":7780,"f":1.5},{"s":"UGC 2773","w":7800,"f":1.1},{"s":"UGC 2773","w":7820,"f":1.5},{"s":"UGC 2773","w":7840,"f":1.2},{"s":"UGC 2773","w":7860,"f":1.6},{"s":"UGC 2773","w":7880,"f":1.1},{"s":"UGC 2773","w":7900,"f":1.5},{"s":"UGC 2773","w":7920,"f":1.1},{"s":"UGC 2773","w":7940,"f":1.4},{"s":"UGC 2773","w":7960,"f":1.2},{"s":"UGC 2773","w":7980,"f":1.5},{"s":"UGC 2773","w":8000,"f":1.1},{"s":"UGC 2773","w":8020,"f":1.4},{"s":"UGC 2773","w":8040,"f":1.0},{"s":"UGC 2773","w":8060,"f":1.3},{"s":"UGC 2773","w":8080,"f":1.1},{"s":"UGC 2773","w":8100,"f":1.4},{"s":"UGC 2773","w":8120,"f":1.1},{"s":"UGC 2773","w":8140,"f":1.3},{"s":"UGC 2773","w":8154,"f":0.1},{"s":"UGC 2773","w":8170,"f":1.2},{"s":"UGC 2773","w":8190,"f":1.0},{"s":"UGC 2773","w":8210,"f":1.4},{"s":"UGC 2773","w":8230,"f":1.1},{"s":"UGC 2773","w":8250,"f":1.3},{"s":"UGC 2773","w":8270,"f":1.0},{"s":"UGC 2773","w":8290,"f":1.4},{"s":"UGC 2773","w":8310,"f":1.1},{"s":"UGC 2773","w":8330,"f":1.3},{"s":"UGC 2773","w":8350,"f":1.0},{"s":"UGC 2773","w":8370,"f":1.4},{"s":"UGC 2773","w":8390,"f":1.2},{"s":"UGC 2773","w":8410,"f":1.3},{"s":"UGC 2773","w":8430,"f":1.0},{"s":"UGC 2773","w":8450,"f":1.5},{"s":"UGC 2773","w":8470,"f":1.1},{"s":"UGC 2773","w":8490,"f":1.6},{"s":"UGC 2773","w":8510,"f":1.3},{"s":"UGC 2773","w":8522,"f":3.7},{"s":"UGC 2773","w":8530,"f":-0.9},{"s":"UGC 2773","w":8545,"f":1.4},{"s":"UGC 2773","w":8565,"f":3.5},{"s":"UGC 2773","w":8575,"f":-0.7},{"s":"UGC 2773","w":8590,"f":1.2},{"s":"UGC 2773","w":8610,"f":1.0},{"s":"UGC 2773","w":8630,"f":1.4},{"s":"UGC 2773","w":8650,"f":1.1},{"s":"UGC 2773","w":8662,"f":3.6},{"s":"UGC 2773","w":8672,"f":-0.9},{"s":"UGC 2773","w":8690,"f":1.2},{"s":"UGC 2773","w":8710,"f":0.7},{"s":"UGC 2773","w":8730,"f":1.3},{"s":"UGC 2773","w":8750,"f":0.9},{"s":"UGC 2773","w":8770,"f":1.1},{"s":"UGC 2773","w":8790,"f":0.8}
],
"names":[{"t":"2007sv","w":5000,"f":27.2},{"t":"1997bs","w":5000,"f":22.6},{"t":"SN 1999el","w":5000,"f":17.2},{"t":"SN 2008S","w":5000,"f":11.8},{"t":"UGC 2773-2009OT1","w":5000,"f":5.4}],
"epochs":[{"t":"+9 d","w":8000,"f":21.7},{"t":"+15 d","w":8000,"f":19.2},{"t":"+18 d","w":8000,"f":13.2},{"t":"+16 d","w":8000,"f":6.7}]
},
"layer":[
{"data":{"name":"spec"},"mark":{"type":"line","clip":true,"strokeJoin":"miter"},
 "encoding":{
  "x":{"field":"w","type":"quantitative","scale":{"domain":[4200,8800],"nice":false,"zero":false},
       "axis":{"orient":"bottom","values":[5000,6000,7000,8000],"format":"d","tickSize":-4,"labelPadding":7,"title":"wavelength [Å]","titlePadding":4}},
  "y":{"field":"f","type":"quantitative","scale":{"domain":[-2.4,29.8],"nice":false,"zero":false},
       "axis":{"orient":"left","values":[0,5,10,15,20,25],"labels":false,"tickSize":-4,"title":"log F(λ) + const [erg cm⁻² s⁻¹]","titleFontSize":10.5,"titleX":-11,"titleY":222,"titleBaseline":"middle","titleAnchor":"middle"}},
  "color":{"field":"s","type":"nominal","scale":{"domain":["2007sv","1997bs","SN 1999el","SN 2008S","UGC 2773"],"range":["#0000ff","#000000","#1a1a1a","#000000","#000000"]},"legend":null},
  "strokeWidth":{"field":"s","type":"nominal","scale":{"domain":["2007sv","1997bs","SN 1999el","SN 2008S","UGC 2773"],"range":[1,1,0.7,1,1]},"legend":null}
 }},
{"data":{"name":"names"},"mark":{"type":"text","align":"left","baseline":"middle","font":"DejaVu Serif","fontSize":8.5,"color":"#3535ff"},
 "encoding":{
  "x":{"field":"w","type":"quantitative","scale":{"domain":[4200,8800],"nice":false,"zero":false},"axis":{"orient":"top","values":[5000,6000,7000,8000],"labels":false,"tickSize":-4,"title":null}},
  "y":{"field":"f","type":"quantitative","scale":{"domain":[-2.4,29.8],"nice":false,"zero":false},"axis":{"orient":"right","values":[0,5,10,15,20,25],"labels":false,"tickSize":-4,"title":null}},
  "text":{"field":"t"}
 }},
{"data":{"name":"epochs"},"mark":{"type":"text","align":"left","baseline":"middle","font":"DejaVu Serif","fontSize":7,"color":"#ff2a2a"},
 "encoding":{
  "x":{"field":"w","type":"quantitative","scale":{"domain":[4200,8800],"nice":false,"zero":false},"axis":null},
  "y":{"field":"f","type":"quantitative","scale":{"domain":[-2.4,29.8],"nice":false,"zero":false},"axis":null},
  "text":{"field":"t"}
 }}
],
"resolve":{"axis":{"x":"independent","y":"independent"}}
}
